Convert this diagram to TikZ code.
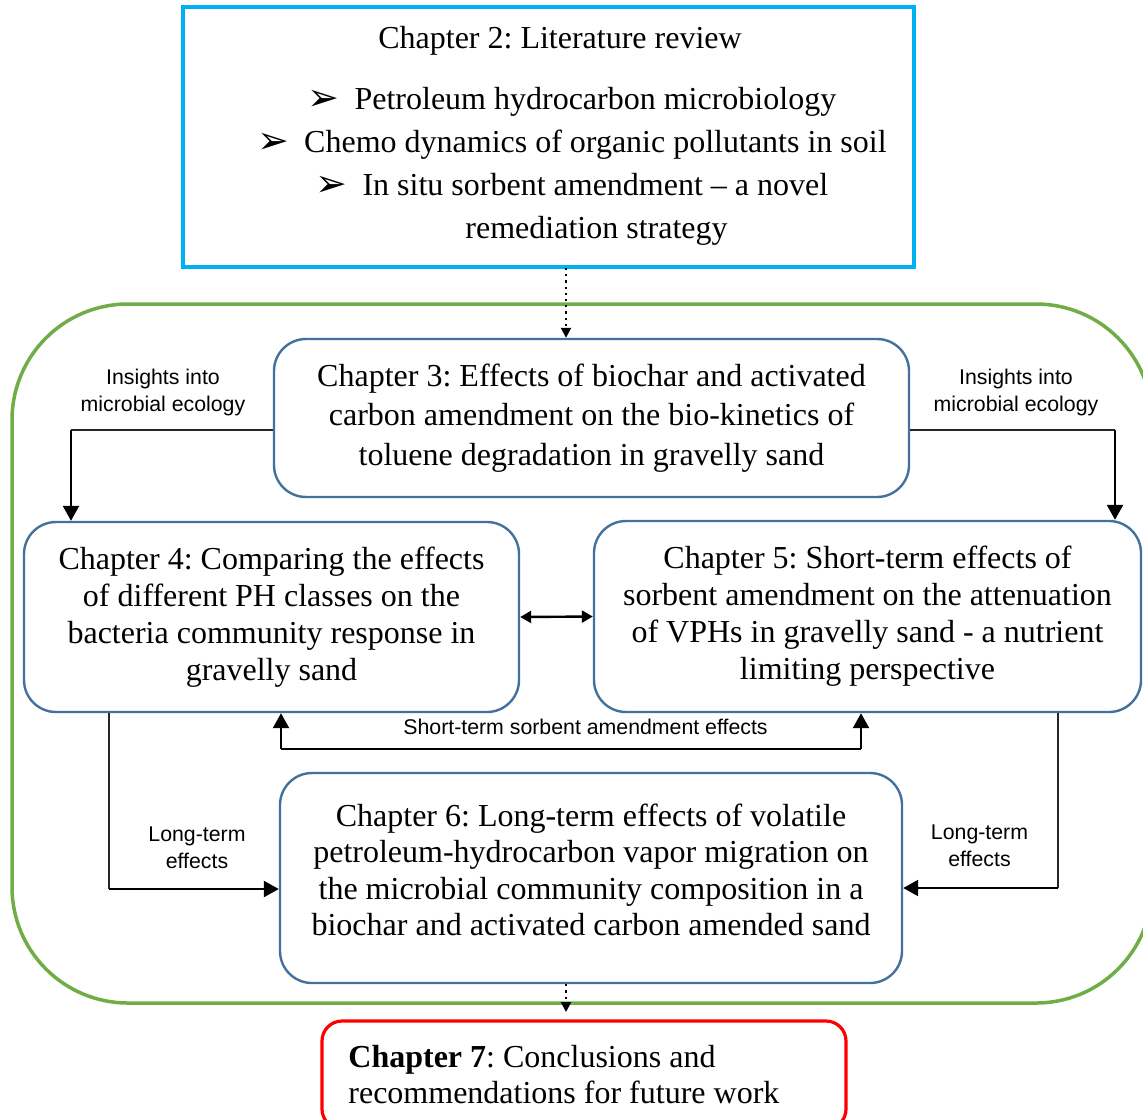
\documentclass[tikz,border=0pt]{standalone}
\usepackage{fontspec}
\setmainfont{Liberation Serif}
\newfontfamily\arialfont{Liberation Sans}
\newfontfamily\dingfont{DejaVu Sans}
\usepackage{xcolor}
\usetikzlibrary{positioning}
\usetikzlibrary{arrows.meta}
\definecolor{chcyan}{HTML}{00B0F0}
\definecolor{chgreen}{HTML}{70AD47}
\definecolor{chblue}{HTML}{41719C}
\definecolor{chred}{HTML}{FF0000}
\frenchspacing
\newcommand\bul{{\dingfont\fontsize{19}{19}\selectfont\raisebox{-0.5pt}{➢}}\hspace{7.5pt}}

\begin{document}
\begin{tikzpicture}[x=0.5pt, y=-0.5pt,
		chbox/.style={draw=chblue, line width=1.2pt, rounded corners=16pt, align=center, inner sep=0pt},
		note/.style={font=\arialfont\fontsize{10.65}{13.5}\selectfont, align=center, inner sep=0pt},
		thinline/.style={line width=0.7pt, draw=black!85},
		arr/.style={line width=1.2pt, -{Triangle[length=7.5pt,width=8pt]}},
		dblarr/.style={line width=1.2pt, {Triangle[length=5.5pt,width=6pt]}-{Triangle[length=5.5pt,width=6pt]}},
		dotarr/.style={line width=1.1pt, dotted, -{Triangle[length=5pt,width=5pt]}}]
	\clip (0,0) rectangle (1143,1119);
	\useasboundingbox (0,0) rectangle (1143,1119);
	% outer frame
	\draw[chgreen, line width=1.75pt, rounded corners=58pt] (12,304) rectangle (1152,1003);
	% chapter 2
	\node[draw=chcyan, line width=2pt, minimum width=365.5pt, minimum height=130pt, inner sep=0pt] (ch2) at (548.5,137) {};
	\node[font=\fontsize{16}{20}\selectfont, inner sep=0pt] (ch2title) at (560,41) {Chapter 2: Literature review};
	\node[font=\fontsize{16}{21.5}\selectfont, align=center, inner sep=0pt] (ch2list) at (572,166.5) {\bul Petroleum hydrocarbon microbiology\\
		\bul Chemo dynamics of organic pollutants in soil\\
		\bul In situ sorbent amendment -- a novel\\
		\hspace*{24.5pt}remediation strategy};
	% chapters 3-6
	\node[chbox, minimum width=317.5pt, minimum height=79pt, font=\fontsize{16}{19.75}\selectfont] (ch3) at (591.5,418) {Chapter 3: Effects of biochar and activated\\ carbon amendment on the bio-kinetics of\\ toluene degradation in gravelly sand};
	\node[chbox, minimum width=247.5pt, minimum height=95pt, font=\fontsize{16}{18.5}\selectfont] (ch4) at (271.5,617) {Chapter 4: Comparing the effects\\ of different PH classes on the\\ bacteria community response in\\ gravelly sand};
	\node[chbox, minimum width=273.5pt, minimum height=95.5pt, font=\fontsize{16}{18.5}\selectfont] (ch5) at (867.5,616.5) {Chapter 5: Short-term effects of\\ sorbent amendment on the attenuation\\ of VPHs in gravelly sand - a nutrient\\ limiting perspective};
	\node[chbox, minimum width=311pt, minimum height=105pt] (ch6) at (591,878) {};
	\node[font=\fontsize{16}{18.25}\selectfont, align=center, inner sep=0pt] (ch6text) at (591,870) {Chapter 6: Long-term effects of volatile\\ petroleum-hydrocarbon vapor migration on\\ the microbial community composition in a\\ biochar and activated carbon amended sand};
	% chapter 7
	\node[draw=chred, line width=1.6pt, rounded corners=10pt, minimum width=262pt, minimum height=54pt, inner sep=0pt] (ch7) at (584,1075) {};
	\node[font=\fontsize{16}{18}\selectfont, align=left, anchor=west, inner sep=0pt] (ch7text) at (348,1075) {\textbf{Chapter 7}: Conclusions and\\ recommendations for future work};
	% connectors
	\coordinate (d1) at (566,268);
	\coordinate (d2) at (566,1012);
	\draw[dotarr] (d1) -- (d1 |- ch3.north);
	\draw[dotarr] (d2 |- ch6.south) -- (d2);
	\coordinate (inL) at (71,430);
	\coordinate (inR) at (1115,430);
	\draw[thinline] (inL -| ch3.west) -- (inL);
	\draw[arr] (inL) -- (inL |- ch4.north);
	\draw[thinline] (inR -| ch3.east) -- (inR);
	\draw[arr] (inR) -- (inR |- ch5.north);
	\node[note] (insL) at (163,392.5) {Insights into\\ microbial ecology};
	\node[note] (insR) at (1016,392.5) {Insights into\\ microbial ecology};
	\draw[dblarr] (ch4.east) -- (ch5.west);
	\coordinate (stL) at (281,749);
	\coordinate (stR) at (861,749);
	\draw[thinline, line width=0.9pt, draw=black] (stL) -- (stR);
	\draw[arr] (stL) -- (stL |- ch4.south);
	\draw[arr] (stR) -- (stR |- ch5.south);
	\node[note] (stlab) at (585.5,727) {Short-term sorbent amendment effects};
	\coordinate (ltL) at (109,889);
	\coordinate (ltR) at (1058,888);
	\draw[thinline] (ltL |- ch4.south) -- (ltL);
	\draw[arr] (ltL) -- (ltL -| ch6.west);
	\draw[thinline] (ltR |- ch5.south) -- (ltR);
	\draw[arr] (ltR) -- (ltR -| ch6.east);
	\node[note] (ltlabL) at (197,848) {Long-term\\ effects};
	\node[note] (ltlabR) at (979.5,845.5) {Long-term\\ effects};
\end{tikzpicture}
\end{document}
